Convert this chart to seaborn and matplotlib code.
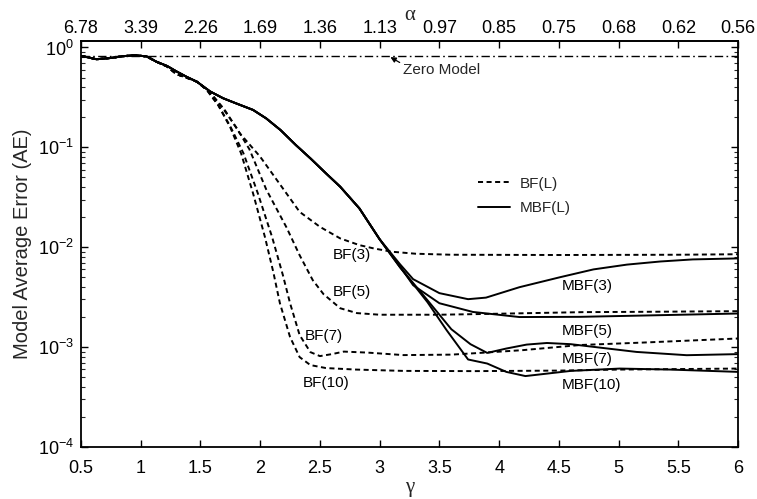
import matplotlib
matplotlib.use("Agg")
import matplotlib.pyplot as plt
import numpy as np
import pandas as pd
import seaborn as sns
from matplotlib.lines import Line2D
from matplotlib.ticker import LogLocator, NullFormatter

# ---- data -------------------------------------------------------------
# shared start of every curve (gamma, average error)
gamma_head = [0.5, 0.55, 0.63, 0.75, 0.85, 0.95, 1.05, 1.13, 1.22, 1.30, 1.38, 1.47]
ae_head_mbf = [0.822, 0.800, 0.762, 0.785, 0.817, 0.836, 0.813, 0.721, 0.653, 0.575, 0.511, 0.454]
ae_head_bf = [0.822, 0.800, 0.762, 0.785, 0.817, 0.836, 0.813, 0.721, 0.645, 0.540, 0.500, 0.454]

# MBF curves share this middle part
gamma_mbf_mid = [1.58, 1.69, 1.80, 1.94, 2.05, 2.17, 2.30, 2.42, 2.55, 2.67, 2.83, 3.00]
ae_mbf_mid = [0.363, 0.310, 0.275, 0.237, 0.195, 0.149, 0.105, 0.0776, 0.055, 0.0403, 0.0245, 0.0120]

# MBF tails
gamma_mbf3 = [3.17, 3.28, 3.50, 3.74, 3.89, 4.17, 4.51, 4.79, 5.07, 5.35, 5.62, 6.00]
ae_mbf3 = [6.76e-3, 4.79e-3, 3.47e-3, 3.02e-3, 3.13e-3, 3.98e-3, 5.01e-3, 6.0e-3, 6.7e-3, 7.2e-3, 7.55e-3, 7.73e-3]
gamma_mbf5 = [3.17, 3.28, 3.50, 3.78, 4.17, 4.68, 5.20, 6.00]
ae_mbf5 = [6.46e-3, 4.17e-3, 2.75e-3, 2.25e-3, 2.00e-3, 2.01e-3, 2.07e-3, 2.17e-3]
gamma_mbf7 = [3.17, 3.40, 3.60, 3.76, 3.90, 4.06, 4.23, 4.40, 4.60, 5.15, 5.57, 6.00]
ae_mbf7 = [6.31e-3, 2.95e-3, 1.51e-3, 1.07e-3, 8.75e-4, 9.68e-4, 1.06e-3, 1.10e-3, 1.07e-3, 8.95e-4, 8.30e-4, 8.51e-4]
gamma_mbf10 = [3.17, 3.40, 3.56, 3.74, 3.90, 4.06, 4.22, 4.60, 5.01, 5.43, 6.00]
ae_mbf10 = [6.31e-3, 2.82e-3, 1.48e-3, 7.52e-4, 6.85e-4, 5.65e-4, 5.13e-4, 5.78e-4, 6.10e-4, 5.96e-4, 5.65e-4]

# BF tails
gamma_bf3 = [1.58, 1.70, 1.83, 2.00, 2.165, 2.33, 2.50, 2.67, 2.83, 2.95, 3.10, 3.30, 3.60, 4.50, 5.50, 6.00]
ae_bf3 = [0.355, 0.240, 0.138, 0.0805, 0.0427, 0.0226, 0.0160, 0.01225, 0.0105, 9.73e-3, 9.02e-3, 8.61e-3,
          8.41e-3, 8.36e-3, 8.41e-3, 8.51e-3]
gamma_bf5 = [1.58, 1.70, 1.80, 1.91, 2.05, 2.22, 2.33, 2.44, 2.53, 2.67, 2.81, 3.00, 3.50, 4.00, 4.70, 5.30, 6.00]
ae_bf5 = [0.355, 0.234, 0.158, 0.0955, 0.0380, 0.0158, 8.32e-3, 4.68e-3, 3.39e-3, 2.45e-3, 2.19e-3, 2.11e-3,
          2.11e-3, 2.16e-3, 2.24e-3, 2.26e-3, 2.29e-3]
gamma_bf7 = [1.55, 1.65, 1.75, 1.86, 1.98, 2.10, 2.19, 2.25, 2.33, 2.42, 2.50, 2.60, 2.70, 2.90, 3.20, 3.60,
             3.84, 4.20, 4.68, 5.20, 6.00]
ae_bf7 = [0.380, 0.263, 0.162, 0.0871, 0.0347, 0.0126, 5.25e-3, 2.75e-3, 1.32e-3, 8.91e-4, 8.13e-4, 8.51e-4,
          9.02e-4, 8.81e-4, 8.32e-4, 8.41e-4, 8.75e-4, 9.33e-4, 1.05e-3, 1.11e-3, 1.22e-3]
gamma_bf10 = [1.55, 1.65, 1.75, 1.84, 1.94, 2.04, 2.11, 2.165, 2.25, 2.33, 2.42, 2.55, 2.80, 3.20, 3.80, 4.50,
              5.00, 6.00]
ae_bf10 = [0.380, 0.263, 0.158, 0.0871, 0.0347, 0.0126, 5.62e-3, 2.75e-3, 1.26e-3, 7.94e-4, 6.61e-4, 6.17e-4,
           5.96e-4, 5.78e-4, 5.75e-4, 5.82e-4, 5.96e-4, 6.10e-4]

zero_model_ae = 0.825

gamma_ticks = [0.5, 1, 1.5, 2, 2.5, 3, 3.5, 4, 4.5, 5, 5.5, 6]
gamma_tick_labels = ["0.5", "1", "1.5", "2", "2.5", "3", "3.5", "4", "4.5", "5", "5.5", "6"]
alpha_tick_labels = ["6.78", "3.39", "2.26", "1.69", "1.36", "1.13", "0.97", "0.85", "0.75", "0.68", "0.62", "0.56"]

# ---- assemble long table ---------------------------------------------
curves = {
    "BF(3)": ("BF", gamma_head + gamma_bf3, ae_head_bf + ae_bf3),
    "BF(5)": ("BF", gamma_head + gamma_bf5, ae_head_bf + ae_bf5),
    "BF(7)": ("BF", gamma_head + gamma_bf7, ae_head_bf + ae_bf7),
    "BF(10)": ("BF", gamma_head + gamma_bf10, ae_head_bf + ae_bf10),
    "MBF(3)": ("MBF", gamma_head + gamma_mbf_mid + gamma_mbf3, ae_head_mbf + ae_mbf_mid + ae_mbf3),
    "MBF(5)": ("MBF", gamma_head + gamma_mbf_mid + gamma_mbf5, ae_head_mbf + ae_mbf_mid + ae_mbf5),
    "MBF(7)": ("MBF", gamma_head + gamma_mbf_mid + gamma_mbf7, ae_head_mbf + ae_mbf_mid + ae_mbf7),
    "MBF(10)": ("MBF", gamma_head + gamma_mbf_mid + gamma_mbf10, ae_head_mbf + ae_mbf_mid + ae_mbf10),
}
frames = []
for name, (fam, g, e) in curves.items():
    frames.append(pd.DataFrame({"gamma": g, "AE": e, "curve": name, "family": fam}))
df = pd.concat(frames, ignore_index=True)

# ---- style ------------------------------------------------------------
sns.set_theme(style="ticks")
plt.rcParams["font.family"] = ["Liberation Sans", "DejaVu Sans"]
plt.rcParams["mathtext.fontset"] = "custom"
plt.rcParams["mathtext.rm"] = "Liberation Sans"
plt.rcParams["mathtext.it"] = "Liberation Sans:italic"
plt.rcParams["mathtext.bf"] = "Liberation Sans:bold"

fig = plt.figure(figsize=(7.57, 4.99), dpi=100)
ax = fig.add_axes([0.107, 0.1042, 0.975 - 0.107, 0.9178 - 0.1042])

bf_dash = (2.6, 1.8)
sns.lineplot(data=df, x="gamma", y="AE", units="curve", style="family",
             dashes={"BF": bf_dash, "MBF": ""}, style_order=["MBF", "BF"],
             estimator=None, sort=False, color="black", linewidth=1.4,
             legend=False, ax=ax)

ax.axhline(zero_model_ae, color="black", linewidth=1.0,
           linestyle=(0, (6, 2.4, 1.2, 2.4)))

ax.set_yscale("log")
ax.set_xlim(0.5, 6)
ax.set_ylim(1e-4, 1.16)
ax.set_xticks(gamma_ticks, labels=gamma_tick_labels)
ax.yaxis.set_major_locator(LogLocator(base=10, numticks=10))
ax.yaxis.set_minor_locator(LogLocator(base=10, subs=np.arange(2, 10), numticks=20))
ax.yaxis.set_minor_formatter(NullFormatter())

for side in ["left", "right", "top", "bottom"]:
    ax.spines[side].set_visible(True)
    ax.spines[side].set_linewidth(1.3)
    ax.spines[side].set_color("black")

ax.tick_params(which="major", direction="in", length=5, width=1.0, labelsize=13,
               right=True, top=False, colors="black")
ax.tick_params(axis="x", which="major", pad=9)
ax.tick_params(axis="y", which="major", pad=5)
ax.tick_params(which="minor", direction="in", length=3, width=0.8, right=True, left=True)

ax.set_xlabel("γ", fontsize=15, family=["Liberation Serif", "DejaVu Serif"], labelpad=1)
ax.set_ylabel("Model Average Error (AE)", fontsize=14.5, labelpad=4)

# alpha scale along the top
top = ax.secondary_xaxis("top")
top.set_xticks(gamma_ticks, labels=alpha_tick_labels)
top.tick_params(direction="in", length=5, width=1.0, labelsize=13, colors="black", pad=3)
top.set_xlabel("α", fontsize=15, family=["Liberation Serif", "DejaVu Serif"], labelpad=0)
top.spines["top"].set_linewidth(1.3)

# curve labels
label_pos = {
    "BF(3)": (2.61, 8.3e-3), "BF(5)": (2.61, 3.57e-3), "BF(7)": (2.374, 1.29e-3),
    "BF(10)": (2.358, 4.38e-4), "MBF(3)": (4.52, 4.1e-3), "MBF(5)": (4.52, 1.45e-3),
    "MBF(7)": (4.52, 7.57e-4), "MBF(10)": (4.52, 4.15e-4),
}
for name, (gx, gy) in label_pos.items():
    ax.text(gx, gy, name, fontsize=11, ha="left", va="center", color="black")

ax.annotate("Zero Model", xy=(3.09, 0.80), xytext=(3.195, 0.595),
            fontsize=11, ha="left", va="center",
            arrowprops=dict(arrowstyle="-|>", color="black", lw=0.9,
                            mutation_scale=8, shrinkA=0, shrinkB=0, relpos=(0.0, 0.9)))

handles = [Line2D([], [], color="black", lw=1.4, dashes=bf_dash),
           Line2D([], [], color="black", lw=1.4)]
fig.legend(handles, ["BF(L)", "MBF(L)"], loc="center left",
           bbox_to_anchor=(478 / 757, 1 - 196 / 499), frameon=False, fontsize=11,
           handlelength=2.1, handletextpad=0.65, labelspacing=0.7,
           borderpad=0, borderaxespad=0)

fig.savefig("out.png", dpi=100)
